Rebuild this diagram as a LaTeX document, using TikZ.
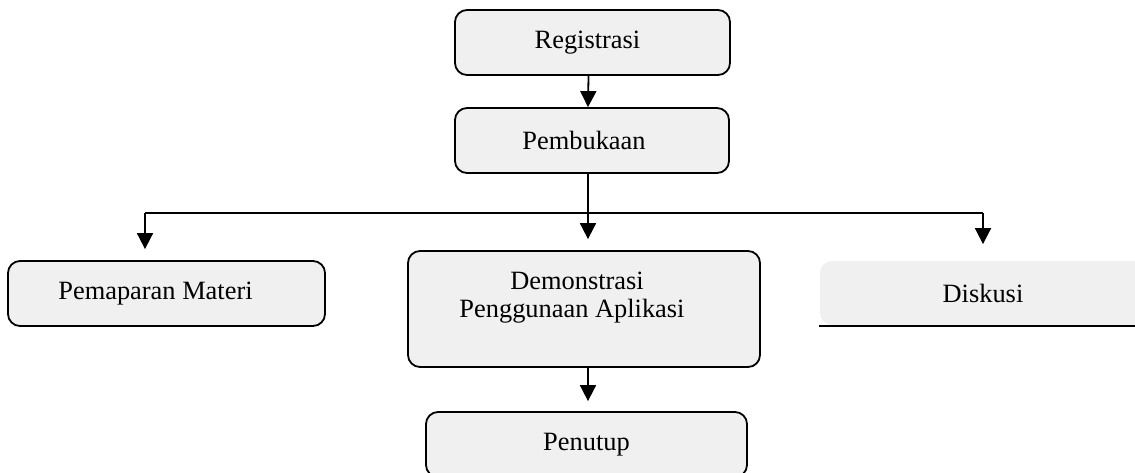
\documentclass[tikz,border=0pt]{standalone}
\usepackage{fontspec}
\setmainfont{Liberation Serif}
\usetikzlibrary{arrows.meta}
\definecolor{boxgray}{RGB}{240,240,240}

\begin{document}
\begin{tikzpicture}[x=0.5pt,y=-0.5pt,>={Triangle[width=8pt,length=8pt]},line width=0.9pt,
    stage/.style={draw,fill=boxgray,rounded corners=6pt,minimum height=32.5pt,
      inner sep=0pt,align=center,font=\fontsize{13.2}{14}\selectfont},
    openstage/.style={stage,draw=none}]
    \useasboundingbox (0,0) rectangle (1135,472);
    \clip (0,0) rectangle (1135,472);

    \node[stage,minimum width=137.5pt] (reg) at (592.5,42.5) {Registrasi\kern5pt};
    \node[stage,minimum width=137pt] (pem) at (592,140.5) {Pembukaan\kern8pt};
    \node[stage,minimum width=158.5pt] (pap) at (166.5,293.5) {Pemaparan Materi\kern11pt};
    \node[stage,minimum width=176pt,minimum height=58pt] (demo) at (584,309)
      {Demonstrasi\kern7pt\\Penggunaan Aplikasi\kern12pt\\\mbox{}};
    \node[openstage,minimum width=163pt,minimum height=32pt] (dis) at (983,293) {Diskusi};
    \node[stage,minimum width=160.5pt] (pen) at (586.5,444.5) {Penutup};

    \coordinate (lft) at (145,213);
    \coordinate (rgt) at (983,213);

    \draw (dis.south west) -- (dis.south east);

    \draw[->] ([xshift=-2pt]reg.south) -- ([xshift=-2pt]pem.north);
    \draw[->,shorten >=5.5pt] ([xshift=-2pt]pem.south) -- ([xshift=-2pt]pem.south |- demo.north);
    \draw (lft) -- (rgt);
    \draw[->,shorten >=5.5pt] (lft) -- (lft |- pap.north);
    \draw[->,shorten >=8pt] (rgt) -- (dis.north);
    \draw[->,shorten >=5pt] ([xshift=2pt]demo.south) -- ([xshift=2pt]demo.south |- pen.north);
\end{tikzpicture}
\end{document}
